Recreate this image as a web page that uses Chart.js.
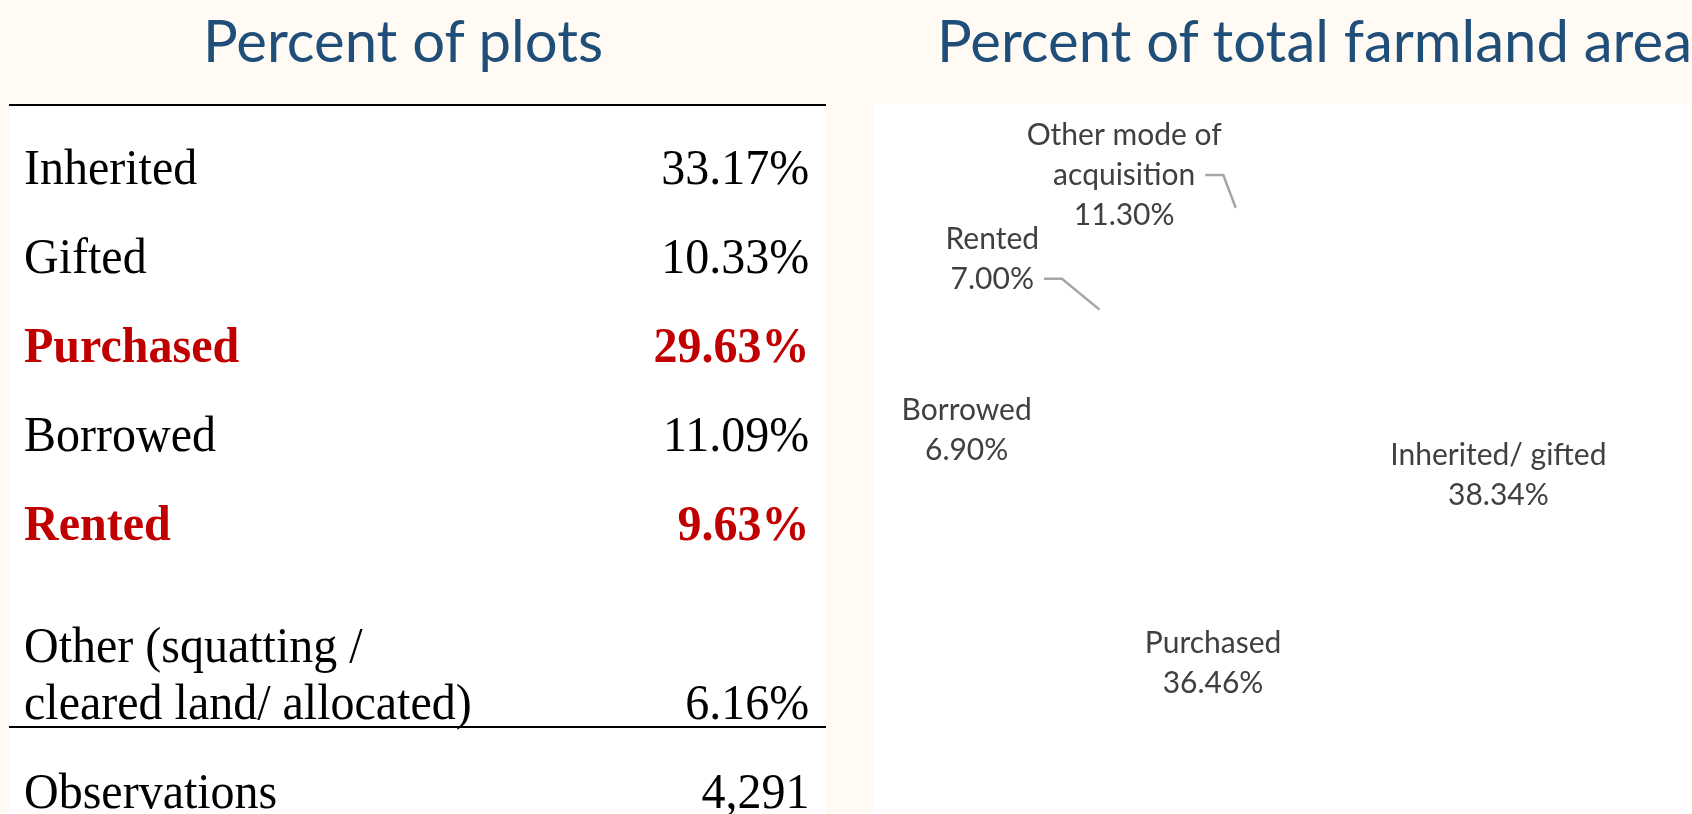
<!DOCTYPE html>
<html>
<head>
<meta charset="utf-8">
<title>Land acquisition</title>
<script src="https://cdn.jsdelivr.net/npm/chart.js@4.4.1/dist/chart.umd.min.js"></script>
<style>
    html, body {
        margin: 0;
        padding: 0;
        width: 1692px;
        height: 814px;
        overflow: hidden;
        background: #fffaf4;
        position: relative;
    }
    .title {
        position: absolute;
        top: 4px;
        font-family: Lato, "Open Sans", sans-serif;
        font-size: 58px;
        line-height: 72px;
        color: #1f4e79;
        white-space: nowrap;
    }
    .panel {
        position: absolute;
        background: #ffffff;
    }
    .rule {
        position: absolute;
        left: 9px;
        width: 817px;
        height: 2px;
        background: #000;
    }
    .cell {
        position: absolute;
        font-family: "Liberation Serif", "Times New Roman", serif;
        font-size: 50px;
        line-height: 60px;
        color: #000;
        white-space: nowrap;
    }
    .cell.left { left: 24px; transform-origin: left center; }
    .cell.right { right: calc(1692px - 809px); transform-origin: right center; }
    .cell.hl { color: #c00000; font-weight: bold; }
    #pieBox {
        position: absolute;
        left: 873px;
        top: 104px;
        width: 819px;
        height: 710px;
    }
</style>
</head>
<body>
<div class="title" id="leftTitle"></div>
<div class="title" id="rightTitle"></div>
<div class="panel" style="left:9px; top:105px; width:817px; height:709px;"></div>
<div class="panel" style="left:873px; top:104px; width:819px; height:710px;"></div>
<div class="rule" style="top:104px;"></div>
<div class="rule" style="top:726px;"></div>
<div id="table"></div>
<div id="pieBox"><canvas id="areaPie"></canvas></div>

<script>
// Left table: percent of plots
const plotCategories = ['Inherited', 'Gifted', 'Purchased', 'Borrowed', 'Rented'];
const plotShares = ['33.17%', '10.33%', '29.63%', '11.09%', '9.63%'];
const plotHighlight = [false, false, true, false, true];
const otherLines = ['Other (squatting /', 'cleared land/ allocated)'];
const otherShare = '6.16%';
const obsLabel = 'Observations';
const obsCount = '4,291';

// Right pie: percent of total farmland area
const areaCategories = ['Inherited/ gifted', 'Purchased', 'Borrowed', 'Rented', 'Other mode of acquisition'];
const areaShares = [38.34, 36.46, 6.90, 7.00, 11.30];

const titles = ['Percent of plots', 'Percent of total farmland area'];

// Titles
const leftTitle = document.getElementById('leftTitle');
leftTitle.textContent = titles[0];
const rightTitle = document.getElementById('rightTitle');
rightTitle.textContent = titles[1];
leftTitle.style.left = (403 - leftTitle.offsetWidth / 2) + 'px';
rightTitle.style.left = '937px';

// Table rows
const table = document.getElementById('table');
function addCell(text, side, centerY, highlight) {
    const el = document.createElement('div');
    el.className = 'cell ' + side + (highlight ? ' hl' : '');
    el.textContent = text;
    el.style.top = (centerY - 30) + 'px';
    el.style.transform = 'scaleX(0.96)';
    table.appendChild(el);
}
plotCategories.forEach((cat, i) => {
    const y = 167 + 89 * i;
    addCell(cat, 'left', y, plotHighlight[i]);
    addCell(plotShares[i], 'right', y, plotHighlight[i]);
});
addCell(otherLines[0], 'left', 645, false);
addCell(otherLines[1], 'left', 702, false);
addCell(otherShare, 'right', 702, false);
addCell(obsLabel, 'left', 791, false);
addCell(obsCount, 'right', 791, false);

// Label placement for pie slices: radius factor and angle (deg, clockwise from top)
const labelPlacement = [
    { f: 0.53, a: 85 },
    { f: 0.72, a: 216 },
    { f: 1.26, a: 279 },
    { f: 1.39, a: 303.5 },
    { f: 1.27, a: 325.5 }
];
const labelLines = [
    ['Inherited/ gifted'],
    ['Purchased'],
    ['Borrowed'],
    ['Rented'],
    ['Other mode of', 'acquisition']
];
// which line gets a leader line (-1 = none)
const leaderLine = [-1, -1, -1, 1, 1];

const pieLabels = {
    id: 'pieLabels',
    afterDatasetsDraw(chart) {
        const ctx = chart.ctx;
        const meta = chart.getDatasetMeta(0);
        const lineH = 40;
        ctx.save();
        ctx.font = '30px Lato, "Open Sans", sans-serif';
        ctx.fillStyle = '#404040';
        ctx.textAlign = 'center';
        ctx.textBaseline = 'middle';
        meta.data.forEach((arc, i) => {
            const p = arc.getProps(['x', 'y', 'startAngle', 'endAngle', 'outerRadius'], true);
            const place = labelPlacement[i];
            const th = (place.a - 90) * Math.PI / 180;
            const cx = p.x + Math.cos(th) * p.outerRadius * place.f;
            const cy = p.y + Math.sin(th) * p.outerRadius * place.f;
            const lines = labelLines[i].concat([areaShares[i].toFixed(2) + '%']);
            const top = cy - (lines.length - 1) * lineH / 2;
            lines.forEach((txt, j) => {
                ctx.fillText(txt, cx, top + j * lineH);
            });
            if (leaderLine[i] >= 0) {
                const ly = top + leaderLine[i] * lineH;
                const w = ctx.measureText(lines[leaderLine[i]]).width;
                const sx = cx + w / 2 + 10;
                const mid = (p.startAngle + p.endAngle) / 2;
                const ex = p.x + Math.cos(mid) * p.outerRadius;
                const ey = p.y + Math.sin(mid) * p.outerRadius;
                ctx.strokeStyle = '#a6a6a6';
                ctx.lineWidth = 2.5;
                ctx.beginPath();
                ctx.moveTo(sx, ly);
                ctx.lineTo(sx + 18, ly);
                ctx.lineTo(ex, ey);
                ctx.stroke();
            }
        });
        ctx.restore();
    }
};

new Chart(document.getElementById('areaPie'), {
    type: 'pie',
    data: {
        labels: areaCategories,
        datasets: [{
            data: areaShares,
            backgroundColor: '#ffffff',
            borderColor: '#ffffff',
            borderWidth: 0
        }]
    },
    options: {
        responsive: true,
        maintainAspectRatio: false,
        animation: false,
        layout: {
            padding: { left: 167, right: 52, top: 85, bottom: 25 }
        },
        plugins: {
            legend: { display: false },
            tooltip: { enabled: false }
        }
    },
    plugins: [pieLabels]
});
</script>
</body>
</html>
